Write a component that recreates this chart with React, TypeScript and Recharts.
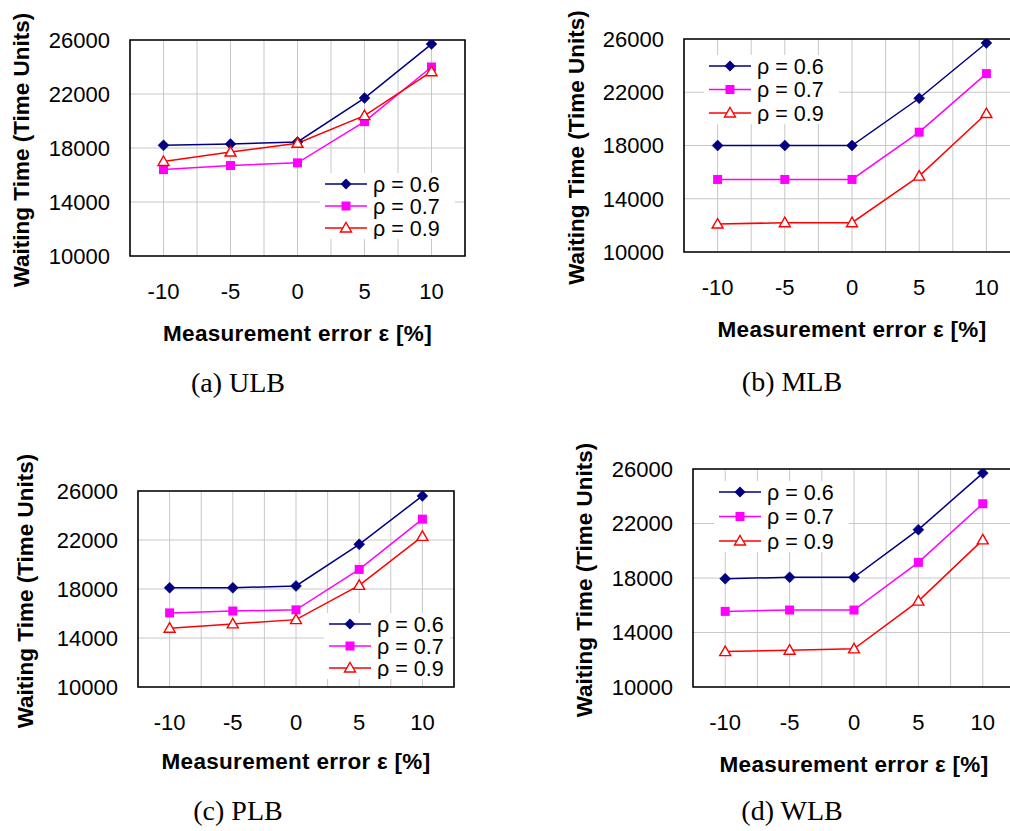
import React from 'react';
import { LineChart, Line, XAxis, YAxis, CartesianGrid, ReferenceArea, Legend } from 'recharts';

const errorPct = [-10, -5, 0, 5, 10];
const yTicks = [10000, 14000, 18000, 22000, 26000];
const xGridValues = [-10, -7.5, -5, -2.5, 0, 2.5, 5, 7.5, 10];
const rhoLabels = ['ρ = 0.6', 'ρ = 0.7', 'ρ = 0.9'];

const ulb06 = [18200, 18300, 18450, 21700, 25700];
const ulb07 = [16400, 16700, 16900, 19950, 24000];
const ulb09 = [17000, 17700, 18350, 20400, 23650];

const mlb06 = [18000, 18000, 18000, 21550, 25700];
const mlb07 = [15450, 15450, 15450, 19000, 23400];
const mlb09 = [12100, 12200, 12200, 15700, 20400];

const plb06 = [18100, 18100, 18250, 21650, 25600];
const plb07 = [16050, 16200, 16300, 19600, 23700];
const plb09 = [14800, 15150, 15500, 18300, 22300];

const wlb06 = [17950, 18050, 18050, 21550, 25700];
const wlb07 = [15550, 15650, 15650, 19150, 23450];
const wlb09 = [12600, 12700, 12800, 16300, 20800];

const captions = ['(a) ULB', '(b) MLB', '(c) PLB', '(d) WLB'];

const SANS = '"Liberation Sans", Arial, sans-serif';
const SERIF = '"Liberation Serif", "Times New Roman", serif';
const NAVY = '#000080';
const MAGENTA = '#FF00FF';
const RED = '#FF0000';

type Panel = {
  s06: number[]; s07: number[]; s09: number[];
  x0: number; x1: number; y0: number; y1: number;
  legX: number; legY: number; legSp: number; legW: number;
  xLabDy: number; yLabDx: number;
  capX: number; capY: number; caption: string;
};

const panels: Panel[] = [
  { s06: ulb06, s07: ulb07, s09: ulb09, x0: 130, x1: 465, y0: 40, y1: 256, legX: 325, legY: 184, legSp: 22, legW: 135, xLabDy: 85, yLabDx: 101, capX: 238, capY: 392, caption: captions[0] },
  { s06: mlb06, s07: mlb07, s09: mlb09, x0: 684, x1: 1020, y0: 39, y1: 252, legX: 709, legY: 66, legSp: 23.5, legW: 135, xLabDy: 85, yLabDx: 100, capX: 792, capY: 391, caption: captions[1] },
  { s06: plb06, s07: plb07, s09: plb09, x0: 138, x1: 454, y0: 491, y1: 687, legX: 329, legY: 624, legSp: 22, legW: 126, xLabDy: 82, yLabDx: 105, capX: 238, capY: 820, caption: captions[2] },
  { s06: wlb06, s07: wlb07, s09: wlb09, x0: 693, x1: 1015, y0: 469, y1: 687, legX: 719, legY: 492, legSp: 24.5, legW: 135, xLabDy: 85, yLabDx: 101, capX: 792, capY: 820, caption: captions[3] },
];

const diamondPath = (cx: number, cy: number, r = 5.5) => `M${cx},${cy - r}L${cx + r},${cy}L${cx},${cy + r}L${cx - r},${cy}Z`;
const trianglePath = (cx: number, cy: number) => `M${cx},${cy - 5.5}L${cx + 5.5},${cy + 4}L${cx - 5.5},${cy + 4}Z`;

const DiamondDot = (p: any) => {
  if (p.cx == null || p.cy == null) return <g key={`d${p.index}`} />;
  return <path key={`d${p.index}`} d={diamondPath(p.cx, p.cy)} fill={NAVY} stroke={NAVY} strokeWidth={0.5} />;
};
const SquareDot = (p: any) => {
  if (p.cx == null || p.cy == null) return <g key={`s${p.index}`} />;
  return <rect key={`s${p.index}`} x={p.cx - 4.5} y={p.cy - 4.5} width={9} height={9} fill={MAGENTA} />;
};
const TriangleDot = (p: any) => {
  if (p.cx == null || p.cy == null) return <g key={`t${p.index}`} />;
  return <path key={`t${p.index}`} d={trianglePath(p.cx, p.cy)} fill="#fff" stroke={RED} strokeWidth={1.4} />;
};

const LegendBox = ({ sp, w }: { sp: number; w: number }) => {
  const colors = [NAVY, MAGENTA, RED];
  const h = 22 + sp * 2;
  return (
    <svg width={w} height={h} style={{ display: 'block' }}>
      <rect x={0} y={0} width={w} height={h} fill="#fff" />
      {rhoLabels.map((lab, i) => {
        const y = 11 + i * sp;
        const c = colors[i];
        return (
          <g key={lab}>
            <line x1={5} x2={47} y1={y} y2={y} stroke={c} strokeWidth={1.5} />
            {i === 0 && <path d={diamondPath(26, y)} fill={c} />}
            {i === 1 && <rect x={21.5} y={y - 4.5} width={9} height={9} fill={c} />}
            {i === 2 && <path d={trianglePath(26, y)} fill="#fff" stroke={c} strokeWidth={1.4} />}
            <text x={53} y={y + 7.5} fontSize={21.5} fontFamily={SANS} fill="#000">{lab}</text>
          </g>
        );
      })}
    </svg>
  );
};

const PanelChart = ({ p }: { p: Panel }) => {
  const yAxisW = 140;
  const topM = 50;
  const xAxisH = 100;
  const left = p.x0 - yAxisW;
  const top = p.y0 - topM;
  const width = yAxisW + (p.x1 - p.x0) + 10;
  const height = topM + (p.y1 - p.y0) + xAxisH;
  const data = errorPct.map((x, i) => ({ x, r06: p.s06[i], r07: p.s07[i], r09: p.s09[i] }));
  const tickStyle = { fontSize: 22, fill: '#000', fontFamily: SANS };
  return (
    <div style={{ position: 'absolute', left, top, width, height }}>
      <LineChart width={width} height={height} data={data} margin={{ top: topM, right: 10, bottom: 0, left: 0 }}>
        <CartesianGrid stroke="#c8c8c8" strokeWidth={1} verticalValues={xGridValues} horizontalValues={yTicks} />
        <XAxis
          dataKey="x"
          type="number"
          domain={[-12.5, 12.5]}
          ticks={errorPct}
          interval={0}
          allowDataOverflow
          tickLine={false}
          axisLine={false}
          tickSize={0}
          tickMargin={27}
          height={xAxisH}
          tick={tickStyle}
          label={{
            content: (props: any) => {
              const vb = props.viewBox;
              return (
                <text x={vb.x + vb.width / 2} y={vb.y + p.xLabDy} textAnchor="middle" fontSize={22.5} fontWeight="bold" fontFamily={SANS} fill="#000" letterSpacing={0.3}>
                  Measurement error ε [%]
                </text>
              );
            },
          }}
        />
        <YAxis
          type="number"
          domain={[10000, 26000]}
          ticks={yTicks}
          interval={0}
          allowDataOverflow
          tickLine={false}
          axisLine={false}
          tickSize={0}
          tickMargin={20}
          width={yAxisW}
          tick={tickStyle}
          label={{
            content: (props: any) => {
              const vb = props.viewBox;
              const lx = vb.x + vb.width - p.yLabDx;
              const ly = vb.y + vb.height / 2 + 2;
              return (
                <text x={lx} y={ly} transform={`rotate(-90, ${lx}, ${ly})`} textAnchor="middle" fontSize={22.5} fontWeight="bold" fontFamily={SANS} fill="#000">
                  Waiting Time (Time Units)
                </text>
              );
            },
          }}
        />
        <ReferenceArea x1={-12.5} x2={12.5} y1={10000} y2={26000} fill="none" fillOpacity={0} stroke="#000" strokeWidth={1.6} ifOverflow="visible" />
        <Line dataKey="r06" stroke={NAVY} strokeWidth={1.5} dot={DiamondDot} isAnimationActive={false} />
        <Line dataKey="r07" stroke={MAGENTA} strokeWidth={1.5} dot={SquareDot} isAnimationActive={false} />
        <Line dataKey="r09" stroke={RED} strokeWidth={1.5} dot={TriangleDot} isAnimationActive={false} />
        <Legend
          layout="vertical"
          align="center"
          verticalAlign="middle"
          content={() => <LegendBox sp={p.legSp} w={p.legW} />}
          wrapperStyle={{ left: p.legX - 5 - left, top: p.legY - 11 - top, width: p.legW, right: 'auto', bottom: 'auto', margin: 0, padding: 0 }}
        />
      </LineChart>
    </div>
  );
};

export default function App() {
  return (
    <div style={{ position: 'absolute', left: 0, top: 0, width: 1010, height: 831, overflow: 'hidden', background: '#fff' }}>
      {panels.map((p, i) => (
        <PanelChart key={i} p={p} />
      ))}
      <svg width={1010} height={831} style={{ position: 'absolute', left: 0, top: 0, pointerEvents: 'none' }}>
        {panels.map((p, i) => (
          <text key={i} x={p.capX} y={p.capY} textAnchor="middle" fontSize={28} fontFamily={SERIF} fill="#000">
            {p.caption}
          </text>
        ))}
      </svg>
    </div>
  );
}
